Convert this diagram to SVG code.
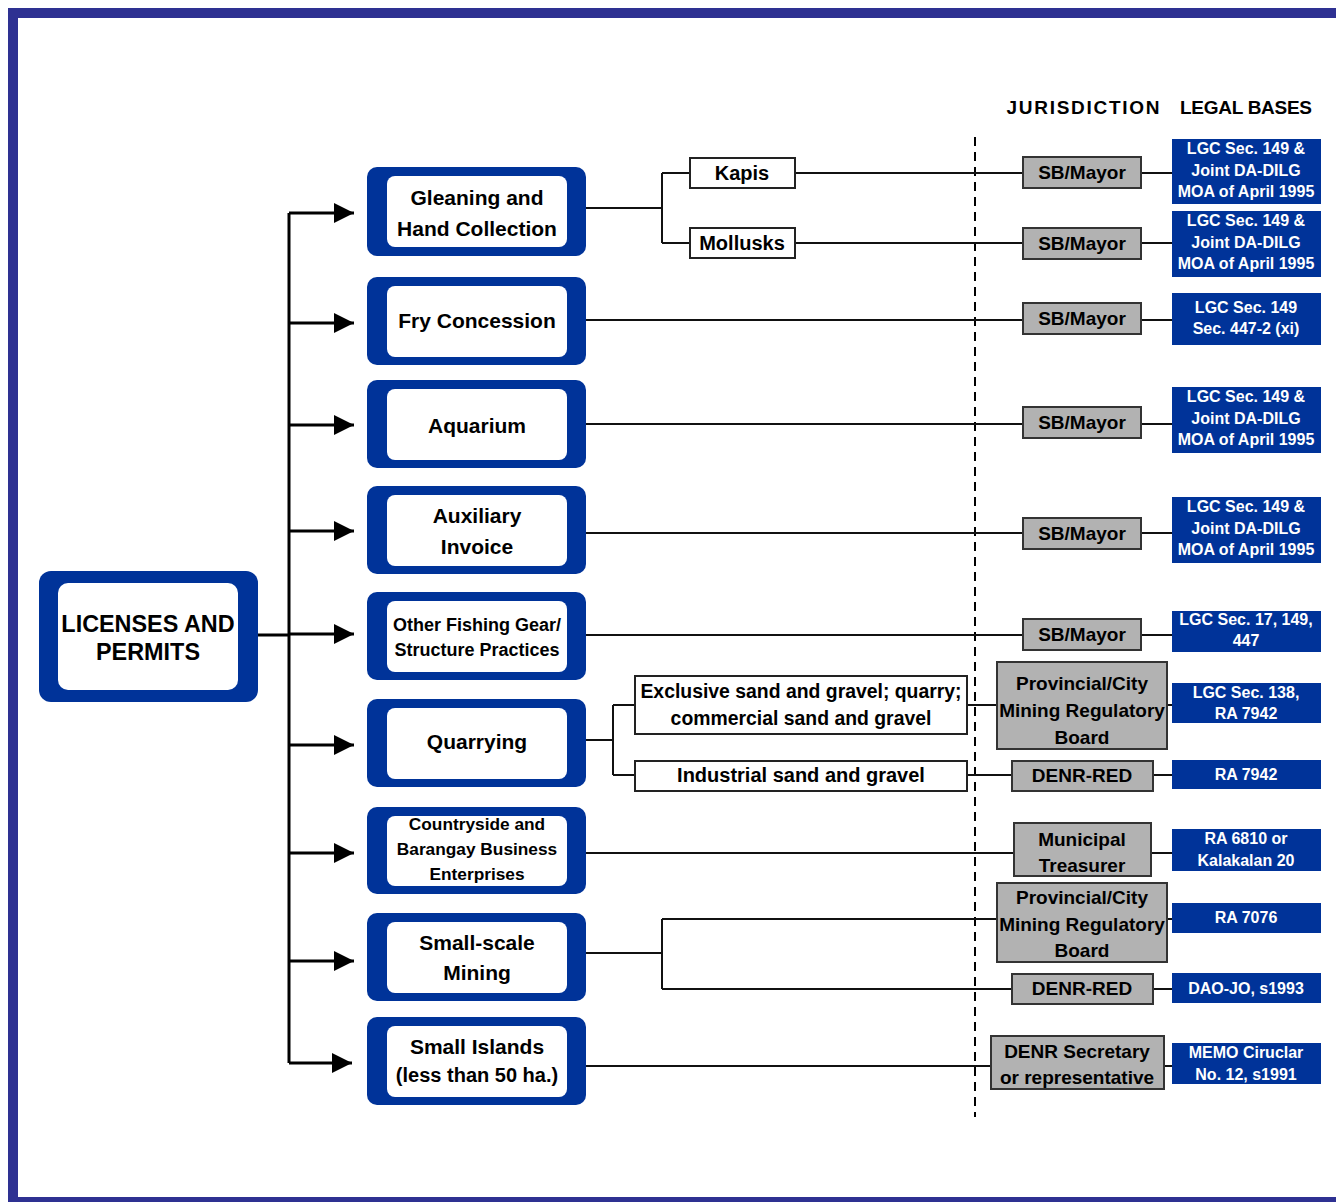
<svg xmlns="http://www.w3.org/2000/svg" width="1336" height="1202" viewBox="0 0 1336 1202">
<defs>
<style>
text{font-family:"Liberation Sans","DejaVu Sans",sans-serif;font-weight:bold;text-anchor:middle;}
.frame{fill:#2e3192;}
.outer{fill:#003399;}
.inner{fill:#ffffff;}
.cat{font-size:21px;fill:#000;}
.cats{font-size:18px;fill:#000;}
.sub{fill:#fff;stroke:#222;stroke-width:2;}
.subt{font-size:20px;fill:#000;}
.jur{fill:#b2b2b2;stroke:#333;stroke-width:2;}
.jurt{font-size:19px;fill:#000;}
.leg{fill:#003399;}
.legt{font-size:16px;fill:#fff;}
.hdr{font-size:19px;fill:#000;}
.ln{stroke:#111;stroke-width:2;fill:none;}
.trunk{stroke:#000;stroke-width:3;fill:none;}
.dash{stroke:#000;stroke-width:2;stroke-dasharray:9,6;fill:none;}
</style>
<marker id="arr" viewBox="0 0 20 20" refX="20" refY="10" markerWidth="20" markerHeight="20" markerUnits="userSpaceOnUse" orient="auto">
<path d="M0,0 L20,10 L0,20 z" fill="#000"/>
</marker>
</defs>
<rect width="1336" height="1202" fill="#fff"/>
<g id="frame">
<rect class="frame" x="8" y="8" width="1328" height="10"/>
<rect class="frame" x="8" y="8" width="10" height="1194"/>
<rect class="frame" x="8" y="1197" width="1328" height="5"/>
</g>
<g id="headers">
<text class="hdr" x="1083" y="114" textLength="153">JURISDICTION</text>
<text class="hdr" x="1246" y="114" textLength="132">LEGAL BASES</text>
</g>
<g id="connectors">
<line class="dash" x1="975" y1="137" x2="975" y2="1117"/>
<path class="trunk" d="M257,635 H289 M289,213 V1063"/>
<path class="trunk" marker-end="url(#arr)" d="M289,213 H354"/>
<path class="trunk" marker-end="url(#arr)" d="M289,323 H354"/>
<path class="trunk" marker-end="url(#arr)" d="M289,425 H354"/>
<path class="trunk" marker-end="url(#arr)" d="M289,531 H354"/>
<path class="trunk" marker-end="url(#arr)" d="M289,634 H354"/>
<path class="trunk" marker-end="url(#arr)" d="M289,745 H354"/>
<path class="trunk" marker-end="url(#arr)" d="M289,853 H354"/>
<path class="trunk" marker-end="url(#arr)" d="M289,961 H354"/>
<path class="trunk" marker-end="url(#arr)" d="M289,1063 H352"/>
<path class="ln" d="M585,208 H662 M662,173 V243 M662,173 H690 M662,243 H690"/>
<path class="ln" d="M795,173 H1023 M1141,173 H1172"/>
<path class="ln" d="M795,243 H1023 M1141,243 H1172"/>
<path class="ln" d="M585,320 H1023 M1141,320 H1172"/>
<path class="ln" d="M585,424 H1023 M1141,424 H1172"/>
<path class="ln" d="M585,533 H1023 M1141,533 H1172"/>
<path class="ln" d="M585,635 H1023 M1141,635 H1172"/>
<path class="ln" d="M585,740 H613 M613,705 V775 M613,705 H635 M613,775 H635"/>
<path class="ln" d="M967,705 H997 M1167,705 H1172"/>
<path class="ln" d="M967,775 H1012 M1153,775 H1172"/>
<path class="ln" d="M585,853 H1014 M1151,853 H1172"/>
<path class="ln" d="M585,953 H662 M662,919 V989 M662,919 H997 M662,989 H1012 M1167,919 H1172 M1153,989 H1172"/>
<path class="ln" d="M585,1066 H991 M1164,1066 H1172"/>
</g>
<g id="n-licenses">
<rect class="outer" x="39" y="571" width="219" height="131" rx="12"/>
<rect class="inner" x="58" y="583" width="180" height="107" rx="10"/>
<text class="cat" x="148" y="632" style="font-size:23.4px">LICENSES AND</text>
<text class="cat" x="148" y="660" style="font-size:23.4px">PERMITS</text>
</g>
<g id="n-gleaning">
<rect class="outer" x="367" y="167" width="219" height="89" rx="10"/>
<rect class="inner" x="387" y="176" width="180" height="71" rx="8"/>
<text class="cat" x="477" y="205">Gleaning and</text>
<text class="cat" x="477" y="236">Hand Collection</text>
</g>
<g id="n-fry">
<rect class="outer" x="367" y="277" width="219" height="88" rx="10"/>
<rect class="inner" x="387" y="286" width="180" height="71" rx="8"/>
<text class="cat" x="477" y="328">Fry Concession</text>
</g>
<g id="n-aquarium">
<rect class="outer" x="367" y="380" width="219" height="88" rx="10"/>
<rect class="inner" x="387" y="389" width="180" height="71" rx="8"/>
<text class="cat" x="477" y="433">Aquarium</text>
</g>
<g id="n-auxiliary">
<rect class="outer" x="367" y="486" width="219" height="88" rx="10"/>
<rect class="inner" x="387" y="495" width="180" height="71" rx="8"/>
<text class="cat" x="477" y="523">Auxiliary</text>
<text class="cat" x="477" y="554">Invoice</text>
</g>
<g id="n-other">
<rect class="outer" x="367" y="592" width="219" height="88" rx="10"/>
<rect class="inner" x="387" y="601" width="180" height="71" rx="8"/>
<text class="cats" x="477" y="631">Other Fishing Gear/</text>
<text class="cats" x="477" y="656">Structure Practices</text>
</g>
<g id="n-quarrying">
<rect class="outer" x="367" y="699" width="219" height="88" rx="10"/>
<rect class="inner" x="387" y="708" width="180" height="71" rx="8"/>
<text class="cat" x="477" y="749">Quarrying</text>
</g>
<g id="n-countryside">
<rect class="outer" x="367" y="807" width="219" height="87" rx="10"/>
<rect class="inner" x="387" y="816" width="180" height="70" rx="8"/>
<text class="cats" x="477" y="830" style="font-size:17.3px">Countryside and</text>
<text class="cats" x="477" y="855" style="font-size:17.3px">Barangay Business</text>
<text class="cats" x="477" y="880" style="font-size:17.3px">Enterprises</text>
</g>
<g id="n-smallscale">
<rect class="outer" x="367" y="913" width="219" height="88" rx="10"/>
<rect class="inner" x="387" y="922" width="180" height="71" rx="8"/>
<text class="cat" x="477" y="950">Small-scale</text>
<text class="cat" x="477" y="980">Mining</text>
</g>
<g id="n-islands">
<rect class="outer" x="367" y="1017" width="219" height="88" rx="10"/>
<rect class="inner" x="387" y="1026" width="180" height="71" rx="8"/>
<text class="cat" x="477" y="1054">Small Islands</text>
<text class="cat" x="477" y="1082" style="font-size:20px">(less than 50 ha.)</text>
</g>
<g id="n-kapis">
<rect class="sub" x="690" y="158" width="105" height="30"/>
<text class="subt" x="742" y="180">Kapis</text>
</g>
<g id="n-mollusks">
<rect class="sub" x="690" y="228" width="105" height="30"/>
<text class="subt" x="742" y="250">Mollusks</text>
</g>
<g id="n-exclusive">
<rect class="sub" x="635" y="676" width="332" height="58"/>
<text class="subt" x="801" y="698" style="font-size:19.4px">Exclusive sand and gravel; quarry;</text>
<text class="subt" x="801" y="725" style="font-size:19.4px">commercial sand and gravel</text>
</g>
<g id="n-industrial">
<rect class="sub" x="635" y="761" width="332" height="30"/>
<text class="subt" x="801" y="782">Industrial sand and gravel</text>
</g>
<g id="j-sb1"><rect class="jur" x="1023" y="157" width="118" height="31"/><text class="jurt" x="1082" y="179">SB/Mayor</text></g>
<g id="j-sb2"><rect class="jur" x="1023" y="228" width="118" height="31"/><text class="jurt" x="1082" y="250">SB/Mayor</text></g>
<g id="j-sb3"><rect class="jur" x="1023" y="303" width="118" height="31"/><text class="jurt" x="1082" y="325">SB/Mayor</text></g>
<g id="j-sb4"><rect class="jur" x="1023" y="407" width="118" height="31"/><text class="jurt" x="1082" y="429">SB/Mayor</text></g>
<g id="j-sb5"><rect class="jur" x="1023" y="518" width="118" height="31"/><text class="jurt" x="1082" y="540">SB/Mayor</text></g>
<g id="j-sb6"><rect class="jur" x="1023" y="619" width="118" height="31"/><text class="jurt" x="1082" y="641">SB/Mayor</text></g>
<g id="j-pmrb1"><rect class="jur" x="997" y="662" width="170" height="87"/>
<text class="jurt" x="1082" y="690">Provincial/City</text><text class="jurt" x="1082" y="717">Mining Regulatory</text><text class="jurt" x="1082" y="744">Board</text></g>
<g id="j-denr1"><rect class="jur" x="1012" y="761" width="141" height="30"/><text class="jurt" x="1082" y="782">DENR-RED</text></g>
<g id="j-treas"><rect class="jur" x="1014" y="823" width="137" height="53"/>
<text class="jurt" x="1082" y="846">Municipal</text><text class="jurt" x="1082" y="872">Treasurer</text></g>
<g id="j-pmrb2"><rect class="jur" x="997" y="883" width="170" height="79"/>
<text class="jurt" x="1082" y="904">Provincial/City</text><text class="jurt" x="1082" y="931">Mining Regulatory</text><text class="jurt" x="1082" y="957">Board</text></g>
<g id="j-denr2"><rect class="jur" x="1012" y="974" width="141" height="30"/><text class="jurt" x="1082" y="995">DENR-RED</text></g>
<g id="j-sec"><rect class="jur" x="991" y="1036" width="173" height="53"/>
<text class="jurt" x="1077" y="1058">DENR Secretary</text><text class="jurt" x="1077" y="1084">or representative</text></g>
<g id="l1"><rect class="leg" x="1172" y="139" width="149" height="65"/>
<text class="legt" x="1246" y="154">LGC Sec. 149 &amp;</text><text class="legt" x="1246" y="176">Joint DA-DILG</text><text class="legt" x="1246" y="197">MOA of April 1995</text></g>
<g id="l2"><rect class="leg" x="1172" y="211" width="149" height="66"/>
<text class="legt" x="1246" y="226">LGC Sec. 149 &amp;</text><text class="legt" x="1246" y="248">Joint DA-DILG</text><text class="legt" x="1246" y="269">MOA of April 1995</text></g>
<g id="l3"><rect class="leg" x="1172" y="293" width="149" height="52"/>
<text class="legt" x="1246" y="313">LGC Sec. 149</text><text class="legt" x="1246" y="334">Sec. 447-2 (xi)</text></g>
<g id="l4"><rect class="leg" x="1172" y="387" width="149" height="66"/>
<text class="legt" x="1246" y="402">LGC Sec. 149 &amp;</text><text class="legt" x="1246" y="424">Joint DA-DILG</text><text class="legt" x="1246" y="445">MOA of April 1995</text></g>
<g id="l5"><rect class="leg" x="1172" y="497" width="149" height="66"/>
<text class="legt" x="1246" y="512">LGC Sec. 149 &amp;</text><text class="legt" x="1246" y="534">Joint DA-DILG</text><text class="legt" x="1246" y="555">MOA of April 1995</text></g>
<g id="l6"><rect class="leg" x="1172" y="611" width="149" height="41"/>
<text class="legt" x="1246" y="625">LGC Sec. 17, 149,</text><text class="legt" x="1246" y="646">447</text></g>
<g id="l7"><rect class="leg" x="1172" y="683" width="149" height="40"/>
<text class="legt" x="1246" y="698">LGC Sec. 138,</text><text class="legt" x="1246" y="719">RA 7942</text></g>
<g id="l8"><rect class="leg" x="1172" y="760" width="149" height="29"/>
<text class="legt" x="1246" y="780">RA 7942</text></g>
<g id="l9"><rect class="leg" x="1172" y="829" width="149" height="42"/>
<text class="legt" x="1246" y="844">RA 6810 or</text><text class="legt" x="1246" y="866">Kalakalan 20</text></g>
<g id="l10"><rect class="leg" x="1172" y="903" width="149" height="30"/>
<text class="legt" x="1246" y="923">RA 7076</text></g>
<g id="l11"><rect class="leg" x="1172" y="973" width="149" height="30"/>
<text class="legt" x="1246" y="994">DAO-JO, s1993</text></g>
<g id="l12"><rect class="leg" x="1172" y="1043" width="149" height="41"/>
<text class="legt" x="1246" y="1058">MEMO Ciruclar</text><text class="legt" x="1246" y="1080">No. 12, s1991</text></g>
</svg>
